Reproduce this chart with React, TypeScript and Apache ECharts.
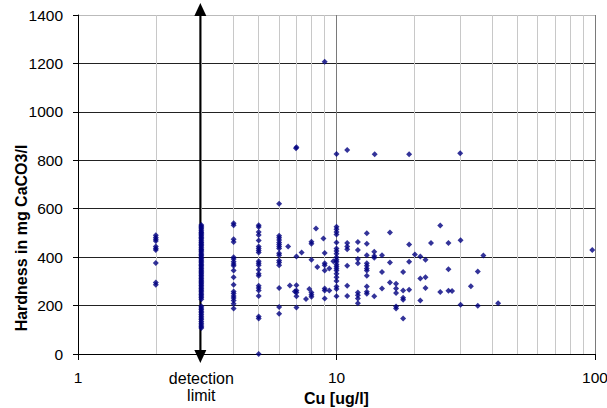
import React, { useEffect, useRef } from 'react';
import * as echarts from 'echarts';

// Hardness [mg CaCO3/l] per Cu column [ug/l]
const hardnessAtCu2 = [490, 481, 474, 467, 444, 436, 429, 376, 295, 286];
const hardnessAtCu3 = [
  533, 528, 521, 516, 509, 503, 499, 492, 487, 481, 476, 470, 463, 458, 452, 447, 441, 434,
  429, 424, 417, 411, 406, 400, 394, 388, 383, 377, 371, 366, 359, 353, 347, 342, 336, 330,
  324, 318, 312, 306, 300, 294, 289, 283, 277, 270, 264, 259, 252, 246, 240, 233, 226, 197,
  190, 184, 177, 170, 163, 156, 149, 142, 134, 127, 120, 113, 107,
];
const hardnessAtCu4 = [540, 532, 474, 463, 400, 392, 381, 372, 364, 345, 317, 286, 258, 250, 240, 231, 221, 208, 188];
const hardnessAtCu5 = [532, 524, 504, 491, 469, 444, 436, 427, 419, 383, 375, 367, 348, 331, 323, 282, 273, 262, 240, 155, 147, 0];
const hardnessAtCu6 = [620, 488, 480, 471, 460, 452, 444, 436, 416, 408, 386, 378, 367, 273, 194, 166];
const hardnessAtCu7 = [854, 403, 284, 262, 254, 238, 192];
const hardnessAtCu8 = [464, 455, 389, 254, 245, 236];
const hardnessAtCu9 = [1207, 417, 375, 367, 345, 271, 262, 229];
const hardnessAtCu10 = [826, 526, 515, 504, 493, 460, 436, 425, 414, 400, 389, 381, 370, 361, 353, 345, 331, 317, 301, 279, 268, 238];
const hardnessAtCu11 = [842, 458, 444, 433, 364, 282, 240];
const hardnessAtCu12 = [463, 430, 392, 375, 254, 243, 229, 210];
const hardnessAtCu13 = [499, 455, 408, 375, 364, 353, 345, 323, 279, 257, 249];

// other samples: [Cu, hardness]
const otherSamples: [number, number][] = [
  [6.5, 444], [6.6, 283], [6.9, 258], [6.97, 850], [7.33, 419], [7.62, 227], [7.85, 268],
  [8.33, 518], [8.43, 359], [8.9, 477], [9.38, 353], [9.38, 262], [9.72, 383],
  [14.0, 422], [14.0, 405], [14.0, 397], [14.0, 238], [14.05, 825],
  [15.0, 408], [15.0, 339], [15.0, 271],
  [16.1, 502], [16.1, 378], [16.1, 295],
  [17.0, 290], [17.0, 271], [17.0, 252], [17.0, 196], [17.0, 188],
  [18.1, 339], [18.1, 262], [18.1, 232], [18.1, 224], [18.1, 147],
  [19.1, 452], [19.1, 381], [19.1, 265], [19.1, 825],
  [20.1, 411], [21.1, 403], [21.1, 312], [21.1, 221],
  [22.1, 389], [22.1, 317], [22.1, 273],
  [23.2, 458], [25.2, 531], [25.2, 256], [27.1, 458], [27.1, 350], [27.1, 261], [28.0, 260],
  [30.1, 829], [30.2, 470], [30.2, 203], [33.1, 280], [35.2, 341], [35.2, 199], [37.0, 407],
  [42.2, 210], [97.6, 430],
];

const columns: [number, number[]][] = [
  [2, hardnessAtCu2], [3, hardnessAtCu3], [4, hardnessAtCu4], [5, hardnessAtCu5],
  [6, hardnessAtCu6], [7, hardnessAtCu7], [8, hardnessAtCu8], [9, hardnessAtCu9],
  [10, hardnessAtCu10], [11, hardnessAtCu11], [12.1, hardnessAtCu12], [13.1, hardnessAtCu13],
];

const minorGridCu = [2, 3, 4, 5, 6, 7, 8, 9, 20, 30, 40, 50, 60, 70, 80, 90];
const detectionLimitCu = 3;
const detectionLabel = 'detection\nlimit';
const xTitle = 'Cu [ug/l]';
const yTitle = 'Hardness in mg CaCO3/l';
const yMin = 0;
const yMax = 1400;
const yInterval = 200;

const FONT = "'Liberation Sans', Arial, sans-serif";

export default function App() {
  const ref = useRef<HTMLDivElement>(null);

  useEffect(() => {
    if (!ref.current) return;
    const chart = echarts.init(ref.current, undefined, { renderer: 'svg' });

    const points: [number, number][] = [];
    columns.forEach(([cu, arr]) => arr.forEach((h) => points.push([cu, h])));
    otherSamples.forEach((p) => points.push(p));

    chart.setOption({
      animation: false,
      backgroundColor: '#ffffff',
      grid: { left: 78, right: 12, top: 15, bottom: 54, outerBoundsMode: 'none' },
      xAxis: {
        type: 'log',
        logBase: 10,
        min: 1,
        max: 100,
        name: xTitle,
        nameLocation: 'middle',
        nameGap: 36,
        nameTextStyle: { fontFamily: FONT, fontSize: 16, fontWeight: 'bold', color: '#000' },
        axisLine: { show: true, lineStyle: { color: '#000', width: 1 } },
        axisTick: { show: true, inside: false, length: 6, lineStyle: { color: '#000' } },
        axisLabel: {
          margin: 15,
          fontFamily: FONT,
          fontSize: 15.5,
          color: '#000',
          formatter: (v: number) => String(v),
        },
        splitLine: { show: true, lineStyle: { color: '#7a7a7a', width: 1 } },
        minorTick: { show: false },
      },
      yAxis: {
        type: 'value',
        min: yMin,
        max: yMax,
        interval: yInterval,
        axisLine: { show: true, lineStyle: { color: '#000', width: 1 } },
        axisTick: { show: true, inside: false, length: 5, lineStyle: { color: '#000' } },
        axisLabel: {
          margin: 15,
          fontFamily: FONT,
          fontSize: 15.5,
          color: '#000',
          formatter: (v: number) => String(v),
        },
        splitLine: {
          show: true,
          lineStyle: {
            color: ['#222', '#222', '#222', '#222', '#222', '#222', '#222', '#bbbbbb'],
            width: 1,
          },
        },
      },
      graphic: [
        {
          type: 'text',
          x: 21,
          y: 238,
          rotation: Math.PI / 2,
          silent: true,
          style: {
            text: yTitle,
            align: 'center',
            verticalAlign: 'middle',
            fontFamily: FONT,
            fontSize: 16,
            fontWeight: 'bold',
            fill: '#000',
          },
        },
      ],
      series: [
        {
          type: 'scatter',
          data: [],
          silent: true,
          z: 1,
          markLine: {
            silent: true,
            z: 1,
            symbol: ['none', 'none'],
            label: { show: false },
            emphasis: { disabled: true },
            lineStyle: { color: '#c8c8c8', width: 1, type: 'solid' },
            data: minorGridCu.map((v) => ({ xAxis: v })),
          },
        },
        {
          type: 'custom',
          data: [[detectionLimitCu, yMin]],
          clip: false,
          silent: true,
          z: 3,
          renderItem: (_params: any, api: any) => {
            const x = api.value(0);
            const top = api.coord([x, yMax]);
            const bottom = api.coord([x, yMin]);
            const cx = top[0] - 1;
            const topTip = top[1] - 12;
            const botTip = bottom[1] + 9;
            return {
              type: 'group',
              children: [
                {
                  type: 'line',
                  shape: { x1: cx, y1: topTip + 6, x2: cx, y2: botTip - 6 },
                  style: { stroke: '#000', lineWidth: 2 },
                },
                {
                  type: 'polygon',
                  shape: { points: [[cx, topTip], [cx - 6, topTip + 13], [cx + 6, topTip + 13]] },
                  style: { fill: '#000' },
                },
                {
                  type: 'polygon',
                  shape: { points: [[cx, botTip], [cx - 6, botTip - 13], [cx + 6, botTip - 13]] },
                  style: { fill: '#000' },
                },
                {
                  type: 'text',
                  style: {
                    text: detectionLabel,
                    x: cx + 1,
                    y: bottom[1] + 16,
                    align: 'center',
                    verticalAlign: 'top',
                    fontFamily: FONT,
                    fontSize: 16,
                    lineHeight: 17,
                    fill: '#000',
                  },
                },
              ],
            };
          },
        },
        {
          type: 'scatter',
          data: points,
          symbol: 'diamond',
          symbolSize: [6, 6],
          silent: true,
          z: 4,
          itemStyle: { color: '#000080' },
        },
      ],
    });

    return () => chart.dispose();
  }, []);

  return (
    <div
      ref={ref}
      style={{ position: 'fixed', left: 0, top: 0, width: 607, height: 408, background: '#fff' }}
    />
  );
}
